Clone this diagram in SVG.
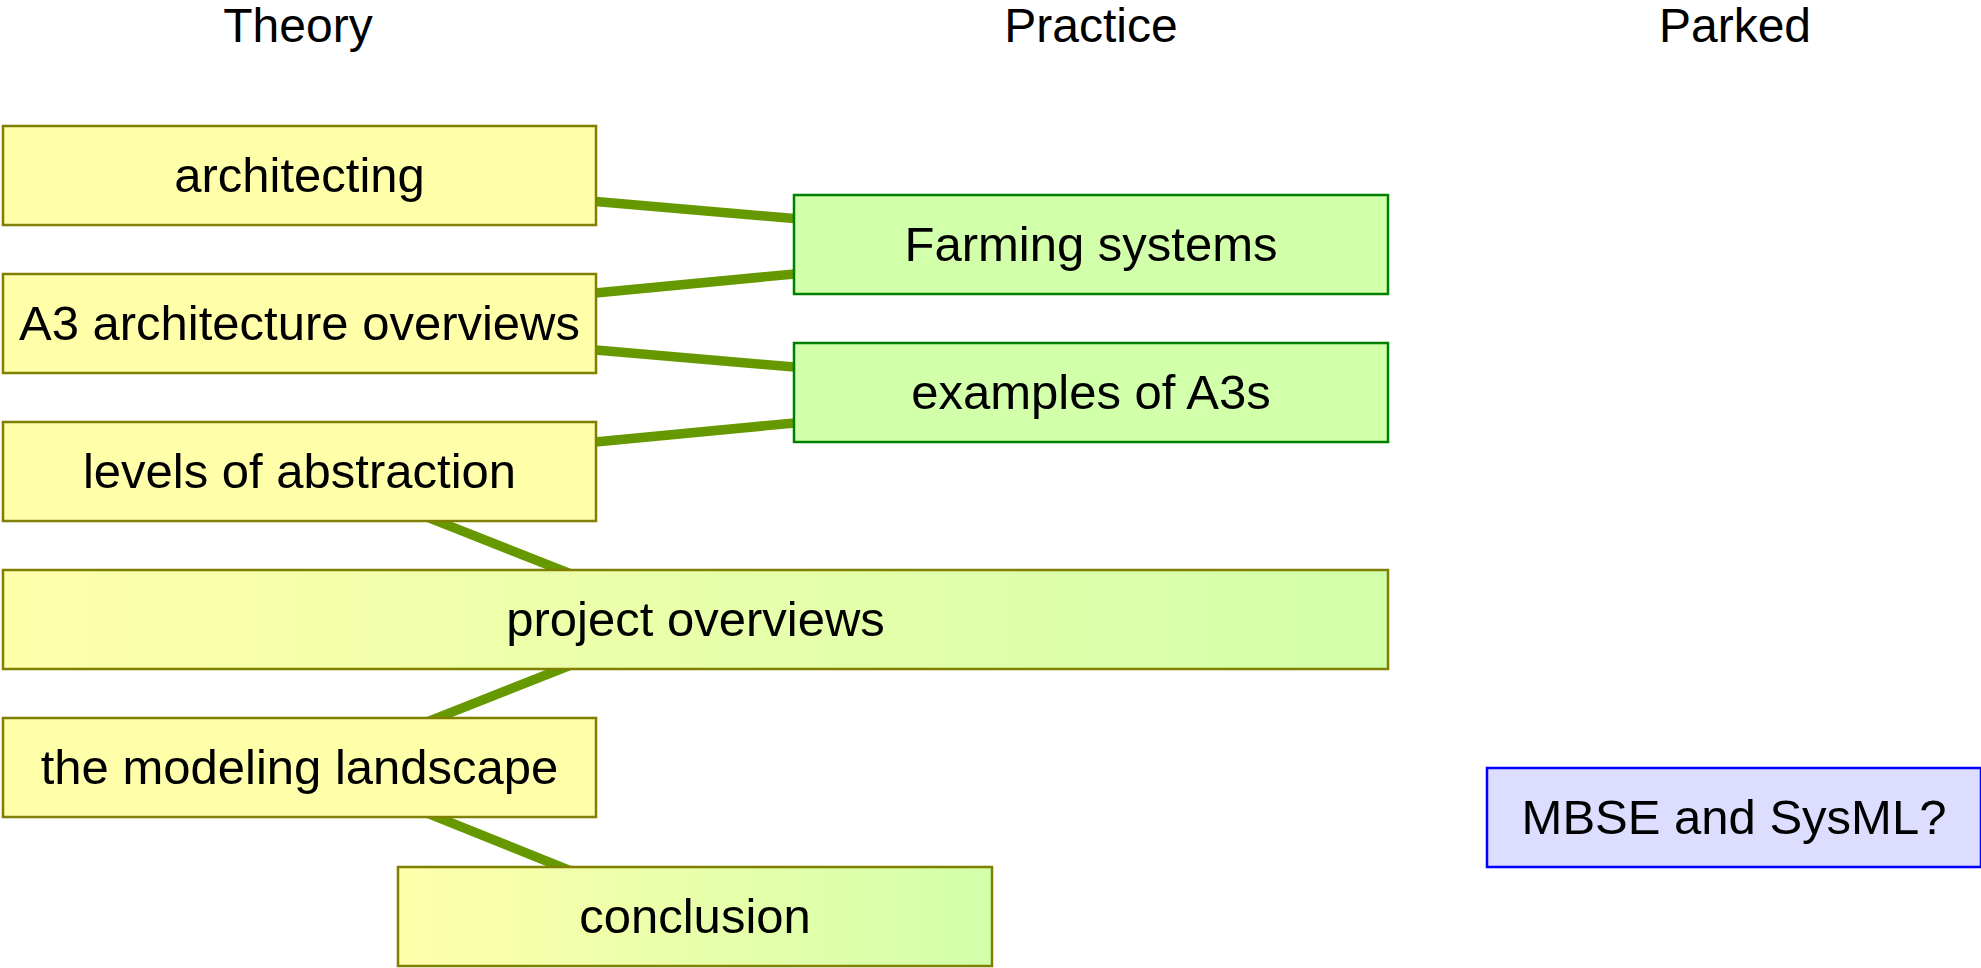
<svg xmlns="http://www.w3.org/2000/svg" width="1981" height="968" viewBox="0 0 1981 968">
<style>
text{font-family:"Liberation Sans",Arial,sans-serif;font-size:48px;fill:#000;text-anchor:middle}
.n{font-size:49px}
.y{fill:#ffffaa;stroke:#808000;stroke-width:2.5}
.g{fill:#d2ffaa;stroke:#008000;stroke-width:2.5}
.b{fill:#ddddff;stroke:#0000ff;stroke-width:2.5}
.yg{fill:url(#grad);stroke:#808000;stroke-width:2.5}
.c line{stroke:#669900;stroke-width:9.5}
</style>
<defs>
<linearGradient id="grad" x1="0" y1="0" x2="1" y2="0">
<stop offset="0" stop-color="#ffffaa"/>
<stop offset="1" stop-color="#d2ffaa"/>
</linearGradient>
</defs>
<rect width="1981" height="968" fill="#fff"/>
<g id="headings">
<text x="298" y="42">Theory</text>
<text x="1091" y="42">Practice</text>
<text x="1735" y="42">Parked</text>
</g>
<g id="connectors" class="c">
<line x1="590" y1="201" x2="800" y2="219"/>
<line x1="590" y1="293.6" x2="800" y2="273.4"/>
<line x1="590" y1="349.5" x2="800" y2="367.5"/>
<line x1="590" y1="442.6" x2="800" y2="422.4"/>
<line x1="424.6" y1="516.1" x2="573.4" y2="574.9"/>
<line x1="573.4" y1="664.1" x2="424.6" y2="722.9"/>
<line x1="424.6" y1="812.1" x2="573.4" y2="871.9"/>
</g>
<g id="architecting"><rect class="y" x="3" y="126" width="593" height="99"/><text class="n" x="299.5" y="192">architecting</text></g>
<g id="a3"><rect class="y" x="3" y="274" width="593" height="99"/><text class="n" x="299.5" y="340">A3 architecture overviews</text></g>
<g id="levels"><rect class="y" x="3" y="422" width="593" height="99"/><text class="n" x="299.5" y="488">levels of abstraction</text></g>
<g id="project"><rect class="yg" x="3" y="570" width="1385" height="99"/><text class="n" x="695.5" y="636">project overviews</text></g>
<g id="modeling"><rect class="y" x="3" y="718" width="593" height="99"/><text class="n" x="299.5" y="784">the modeling landscape</text></g>
<g id="conclusion"><rect class="yg" x="398" y="867" width="594" height="99"/><text class="n" x="695" y="933">conclusion</text></g>
<g id="farming"><rect class="g" x="794" y="195" width="594" height="99"/><text class="n" x="1091" y="261">Farming systems</text></g>
<g id="examples"><rect class="g" x="794" y="343" width="594" height="99"/><text class="n" x="1091" y="409">examples of A3s</text></g>
<g id="mbse"><rect class="b" x="1487" y="768" width="494" height="99"/><text class="n" x="1734" y="834">MBSE and SysML?</text></g>
</svg>
